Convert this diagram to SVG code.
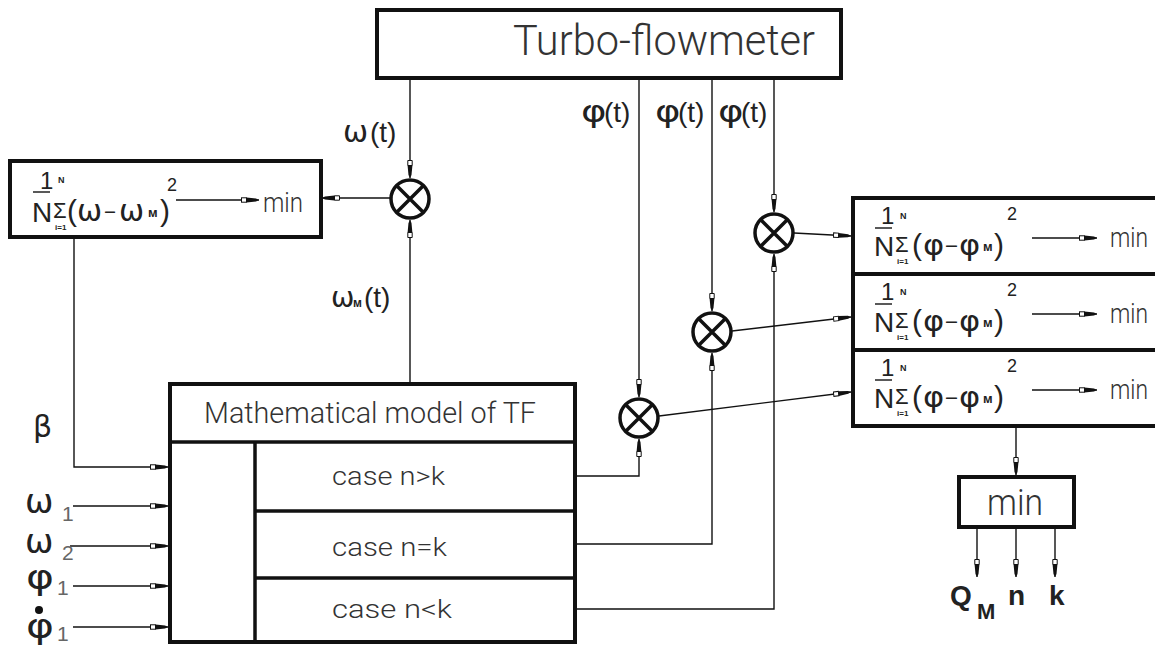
<svg xmlns="http://www.w3.org/2000/svg" width="1155" height="647" viewBox="0 0 1155 647">
<defs>
<style>
.box{fill:#fff;stroke:#111;stroke-width:4}
.thin{fill:none;stroke:#111;stroke-width:3.5}
.ln{fill:none;stroke:#111;stroke-width:1.4}
.arr{marker-end:url(#ah)}
.iso{font-family:"Liberation Sans Narrow","Roboto","DejaVu Sans Condensed",sans-serif;font-weight:300;fill:#333}
.ar{font-family:"Liberation Sans",Arial,sans-serif;fill:#222}
.gr{font-family:"DejaVu Sans","Liberation Sans",sans-serif;fill:#222}
.sub{font-family:"Liberation Sans",Arial,sans-serif;fill:#666}
.b{font-weight:bold}
.mul circle{fill:#fff;stroke:#111;stroke-width:3.5}
.mul path{stroke:#111;stroke-width:3.5;fill:none}
</style>
<marker id="ah" viewBox="0 0 18 8" refX="18" refY="4" markerWidth="18" markerHeight="8" markerUnits="userSpaceOnUse" orient="auto">
<rect x="0.5" y="1.8" width="5" height="4.4" fill="#fff" stroke="#111" stroke-width="1"/>
<path d="M5.5,1.6 L15,2.5 L18,4 L15,5.5 L5.5,6.4 Z" fill="#111"/>
</marker>
</defs>
<rect width="1155" height="647" fill="#fff"/>

<g id="connectors">
<path class="ln arr" d="M410,78 V178"/>
<path class="ln arr" d="M410,384 V220"/>
<path class="ln arr" d="M390,198 H322"/>
<path class="ln arr" d="M74,237 V467 H168"/>
<path class="ln arr" d="M73,506 H168"/>
<path class="ln arr" d="M70,546 H168"/>
<path class="ln arr" d="M73,586 H168"/>
<path class="ln arr" d="M73,627 H168"/>
<path class="ln arr" d="M639,78 V397"/>
<path class="ln arr" d="M712,78 V311"/>
<path class="ln arr" d="M774,78 V212"/>
<path class="ln arr" d="M577,476 H639 V439"/>
<path class="ln arr" d="M577,544 H712 V353"/>
<path class="ln arr" d="M577,609 H774 V254"/>
<path class="ln arr" d="M794,233 L851,236"/>
<path class="ln arr" d="M732,331 L851,317"/>
<path class="ln arr" d="M659,416 L851,392"/>
<path class="ln arr" d="M1016,428 V475"/>
<path class="ln arr" d="M977,529 V577"/>
<path class="ln arr" d="M1016,529 V577"/>
<path class="ln arr" d="M1055,529 V577"/>
</g>

<g id="turbo">
<rect class="box" x="377" y="10" width="464" height="68"/>
<text class="iso" x="513" y="55" font-size="42" textLength="302" lengthAdjust="spacingAndGlyphs">Turbo-flowmeter</text>
</g>

<g id="labels-top">
<text class="gr" x="343" y="142" font-size="30">ω</text>
<text class="ar" x="370" y="142" font-size="28">(t)</text>
<text class="gr" transform="translate(581,122) scale(1.25,1)" font-size="31">φ</text>
<text class="ar" x="604" y="122" font-size="28">(t)</text>
<text class="gr" transform="translate(655,122) scale(1.25,1)" font-size="31">φ</text>
<text class="ar" x="678" y="122" font-size="28">(t)</text>
<text class="gr" transform="translate(718,122) scale(1.25,1)" font-size="31">φ</text>
<text class="ar" x="741" y="122" font-size="28">(t)</text>
<text class="gr" x="331" y="307" font-size="28">ω</text>
<text class="ar b" x="353" y="307" font-size="12">м</text>
<text class="ar" x="364" y="307" font-size="28">(t)</text>
</g>

<g id="mult1" class="mul"><circle cx="410" cy="199" r="19"/><path d="M397,186 L423,212 M423,186 L397,212"/></g>
<g id="mult2" class="mul"><circle cx="774" cy="233" r="19"/><path d="M761,220 L787,246 M787,220 L761,246"/></g>
<g id="mult3" class="mul"><circle cx="712" cy="332" r="19"/><path d="M699,319 L725,345 M725,319 L699,345"/></g>
<g id="mult4" class="mul"><circle cx="639" cy="418" r="19"/><path d="M626,405 L652,431 M652,405 L626,431"/></g>

<g id="crit-omega">
<rect class="box" x="10" y="161" width="311" height="76"/>
<g transform="translate(10,161)">
<text class="ar" x="30" y="28" font-size="24">1</text>
<line x1="23" y1="31" x2="40" y2="31" stroke="#222" stroke-width="1.5"/>
<text class="ar" x="22" y="61" font-size="28">N</text>
<text class="ar" x="43" y="57" font-size="22">Σ</text>
<text class="ar b" x="48" y="22" font-size="9">N</text>
<text class="ar b" x="45" y="69" font-size="8">i=1</text>
<text class="ar" x="57" y="60" font-size="30">(</text>
<text class="gr" x="67" y="60" font-size="30">ω</text>
<text class="ar" x="95" y="57" font-size="24" textLength="10" lengthAdjust="spacingAndGlyphs">–</text>
<text class="gr" x="109" y="60" font-size="30">ω</text>
<text class="ar b" x="138" y="56" font-size="13">м</text>
<text class="ar" x="150" y="60" font-size="30">)</text>
<text class="ar" x="157" y="30" font-size="18">2</text>
<line class="ln arr" x1="166" y1="39" x2="249" y2="39"/>
<text class="iso" x="253" y="51" font-size="28" textLength="40" lengthAdjust="spacingAndGlyphs">min</text>
</g>
</g>

<g id="crit-phi-1">
<rect class="box" x="853" y="198" width="310" height="76"/>
<g transform="translate(853,198)">
<text class="ar" x="28" y="26" font-size="24">1</text>
<line x1="22" y1="30" x2="39" y2="30" stroke="#222" stroke-width="1.5"/>
<text class="ar" x="21" y="58" font-size="28">N</text>
<text class="ar" x="42" y="54" font-size="22">Σ</text>
<text class="ar b" x="47" y="21" font-size="9">N</text>
<text class="ar b" x="44" y="66" font-size="8">i=1</text>
<text class="ar" x="59" y="57" font-size="30">(</text>
<text class="gr" transform="translate(70,57) scale(1.15,1)" font-size="28">φ</text>
<text class="ar" x="93" y="54" font-size="24" textLength="11" lengthAdjust="spacingAndGlyphs">–</text>
<text class="gr" transform="translate(106,57) scale(1.15,1)" font-size="28">φ</text>
<text class="ar b" x="130" y="53" font-size="13">м</text>
<text class="ar" x="141" y="57" font-size="30">)</text>
<text class="ar" x="154" y="22" font-size="18">2</text>
<line class="ln arr" x1="179" y1="40" x2="244" y2="40"/>
<text class="iso" x="257" y="49" font-size="28" textLength="38" lengthAdjust="spacingAndGlyphs">min</text>
</g>
</g>

<g id="crit-phi-2">
<rect class="box" x="853" y="274" width="310" height="76"/>
<g transform="translate(853,274)">
<text class="ar" x="28" y="26" font-size="24">1</text>
<line x1="22" y1="30" x2="39" y2="30" stroke="#222" stroke-width="1.5"/>
<text class="ar" x="21" y="58" font-size="28">N</text>
<text class="ar" x="42" y="54" font-size="22">Σ</text>
<text class="ar b" x="47" y="21" font-size="9">N</text>
<text class="ar b" x="44" y="66" font-size="8">i=1</text>
<text class="ar" x="59" y="57" font-size="30">(</text>
<text class="gr" transform="translate(70,57) scale(1.15,1)" font-size="28">φ</text>
<text class="ar" x="93" y="54" font-size="24" textLength="11" lengthAdjust="spacingAndGlyphs">–</text>
<text class="gr" transform="translate(106,57) scale(1.15,1)" font-size="28">φ</text>
<text class="ar b" x="130" y="53" font-size="13">м</text>
<text class="ar" x="141" y="57" font-size="30">)</text>
<text class="ar" x="154" y="22" font-size="18">2</text>
<line class="ln arr" x1="179" y1="40" x2="244" y2="40"/>
<text class="iso" x="257" y="49" font-size="28" textLength="38" lengthAdjust="spacingAndGlyphs">min</text>
</g>
</g>

<g id="crit-phi-3">
<rect class="box" x="853" y="350" width="310" height="76"/>
<g transform="translate(853,350)">
<text class="ar" x="28" y="26" font-size="24">1</text>
<line x1="22" y1="30" x2="39" y2="30" stroke="#222" stroke-width="1.5"/>
<text class="ar" x="21" y="58" font-size="28">N</text>
<text class="ar" x="42" y="54" font-size="22">Σ</text>
<text class="ar b" x="47" y="21" font-size="9">N</text>
<text class="ar b" x="44" y="66" font-size="8">i=1</text>
<text class="ar" x="59" y="57" font-size="30">(</text>
<text class="gr" transform="translate(70,57) scale(1.15,1)" font-size="28">φ</text>
<text class="ar" x="93" y="54" font-size="24" textLength="11" lengthAdjust="spacingAndGlyphs">–</text>
<text class="gr" transform="translate(106,57) scale(1.15,1)" font-size="28">φ</text>
<text class="ar b" x="130" y="53" font-size="13">м</text>
<text class="ar" x="141" y="57" font-size="30">)</text>
<text class="ar" x="154" y="22" font-size="18">2</text>
<line class="ln arr" x1="179" y1="40" x2="244" y2="40"/>
<text class="iso" x="257" y="49" font-size="28" textLength="38" lengthAdjust="spacingAndGlyphs">min</text>
</g>
</g>

<g id="model">
<rect class="box" x="170" y="384" width="405" height="258"/>
<line class="thin" x1="170" y1="442" x2="575" y2="442"/>
<line class="thin" x1="255" y1="442" x2="255" y2="642"/>
<line class="thin" x1="255" y1="511" x2="575" y2="511"/>
<line class="thin" x1="255" y1="578" x2="575" y2="578"/>
<text class="iso" x="204" y="423" font-size="30" textLength="332" lengthAdjust="spacingAndGlyphs">Mathematical model of TF</text>
<text class="iso" x="332" y="485" font-size="25" textLength="113" lengthAdjust="spacingAndGlyphs">case n&gt;k</text>
<text class="iso" x="332" y="556" font-size="25" textLength="115" lengthAdjust="spacingAndGlyphs">case n=k</text>
<text class="iso" x="332" y="618" font-size="25" textLength="120" lengthAdjust="spacingAndGlyphs">case n&lt;k</text>
</g>

<g id="inputs">
<text class="gr" x="33" y="437" font-size="30">β</text>
<text class="gr" x="25" y="513" font-size="34">ω</text>
<text class="sub" x="62" y="521" font-size="21">1</text>
<text class="gr" x="25" y="553" font-size="34">ω</text>
<text class="sub" x="62" y="560" font-size="21">2</text>
<text class="gr" transform="translate(26,589) scale(1.25,1)" font-size="34">φ</text>
<text class="sub" x="57" y="595" font-size="21">1</text>
<circle cx="39" cy="610" r="4" fill="#111"/>
<text class="gr" transform="translate(26,638) scale(1.25,1)" font-size="34">φ</text>
<text class="sub" x="57" y="641" font-size="21">1</text>
</g>

<g id="minbox">
<rect class="box" x="959" y="477" width="115" height="50"/>
<text class="iso" x="987" y="515" font-size="36" textLength="56" lengthAdjust="spacingAndGlyphs">min</text>
</g>

<g id="outputs">
<text class="ar b" x="950" y="605" font-size="28" fill="#333">Q</text>
<text class="ar b" x="977" y="619" font-size="22" fill="#333">M</text>
<text class="ar b" x="1008" y="605" font-size="28" fill="#333">n</text>
<text class="ar b" x="1049" y="605" font-size="28" fill="#333">k</text>
</g>
</svg>
